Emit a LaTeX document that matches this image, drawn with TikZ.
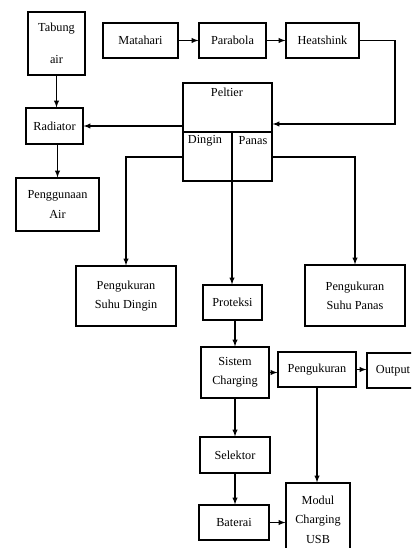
\documentclass[tikz,border=0pt]{standalone}
\usepackage{fontspec}
\setmainfont{Liberation Serif}
\usetikzlibrary{arrows}

\begin{document}
\begin{tikzpicture}[x=0.75pt,y=-0.75pt]
	\tikzstyle{blok} = [draw, shape=rectangle, align=center, inner sep=1pt, line width=0.8pt, font=\fontsize{9.2}{14.5}\selectfont]
	\tikzstyle{panah} = [-latex, line width=0.8pt]

	\def\u{0.75pt}
	\clip (0,0) rectangle (411,548);

	% NODES %
	\node[blok, minimum width=57*\u, minimum height=63*\u] (tabung) at (56.5,43.5) {Tabung\\[9.5pt]air};
	\node[blok, minimum width=75*\u, minimum height=35*\u] (matahari) at (140.5,40.5) {Matahari};
	\node[blok, minimum width=67*\u, minimum height=35*\u] (parabola) at (232.5,40.5) {Parabola};
	\node[blok, minimum width=73*\u, minimum height=35*\u] (heatshink) at (322.5,40.5) {Heatshink};

	\node[blok, minimum width=89*\u, minimum height=98*\u] (peltier) at (227.5,132) {};
	\node[font=\fontsize{9.2}{11}\selectfont] (lpeltier) at (227,92) {Peltier};
	\node[font=\fontsize{9.2}{11}\selectfont] (ldingin) at (205,141) {Dingin};
	\node[font=\fontsize{9.2}{11}\selectfont] (lpanas) at (253,141) {Panas};
	\coordinate (pisah) at (232,132);

	\node[blok, minimum width=57*\u, minimum height=36*\u] (radiator) at (54.5,126) {Radiator};
	\node[blok, minimum width=83*\u, minimum height=53*\u] (guna) at (57.5,204.5) {Penggunaan\\Air};

	\node[blok, minimum width=100*\u, minimum height=60*\u] (ukurdingin) at (126,296) {Pengukuran\\Suhu Dingin};
	\node[blok, minimum width=59*\u, minimum height=35*\u] (proteksi) at (232.5,302.5) {Proteksi};
	\node[blok, minimum width=100*\u, minimum height=61*\u] (ukurpanas) at (355,295.5) {Pengukuran\\Suhu Panas};

	\node[blok, minimum width=68*\u, minimum height=51*\u] (sistem) at (235,372.5) {Sistem\\Charging};
	\node[blok, minimum width=78*\u, minimum height=35*\u] (ukur) at (317,369.5) {Pengukuran};
	\node[blok, minimum width=52*\u, minimum height=35*\u] (output) at (393,370.5) {Output};
	\node[blok, minimum width=70*\u, minimum height=36*\u] (selektor) at (235,455) {Selektor};
	\node[blok, minimum width=70*\u, minimum height=35*\u] (baterai) at (234,522.5) {Baterai};
	\node[blok, minimum width=64*\u, minimum height=73*\u] (modul) at (318,519.5) {Modul\\Charging\\USB};

	% EDGES %
	\draw[panah] (matahari) -- (parabola);
	\draw[panah] (parabola) -- (heatshink);
	\coordinate (belok) at (395,124);
	\draw[panah] (heatshink.east) -| (belok) -- (belok -| peltier.east);
	%peltier
	\draw[line width=0.8pt] (peltier.west) -- (peltier.east);
	\draw[panah] (radiator.east -| peltier.west) -- (radiator.east);
	\draw[panah] (peltier.west |- 0,157) -| (ukurdingin.north);
	\draw[panah] (peltier.east |- 0,157) -| (ukurpanas.north);
	\draw[panah] (pisah) -- (pisah |- proteksi.north);
	%air
	\draw[panah] (tabung.south) -- (tabung.south |- radiator.north);
	\draw[panah] (guna.north |- radiator.south) -- (guna.north);
	%charging
	\draw[panah] (proteksi.south -| sistem.north) -- (sistem.north);
	\draw[panah] (sistem.east) -- (sistem.east -| ukur.west);
	\draw[panah] (ukur.east) -- (ukur.east -| output.west);
	\draw[panah] (sistem.south) -- (selektor.north);
	\draw[panah] (selektor.south) -- (selektor.south |- baterai.north);
	\draw[panah] (baterai.east) -- (baterai.east -| modul.west);
	\draw[panah] (ukur.south) -- (ukur.south |- modul.north);
\end{tikzpicture}
\end{document}
